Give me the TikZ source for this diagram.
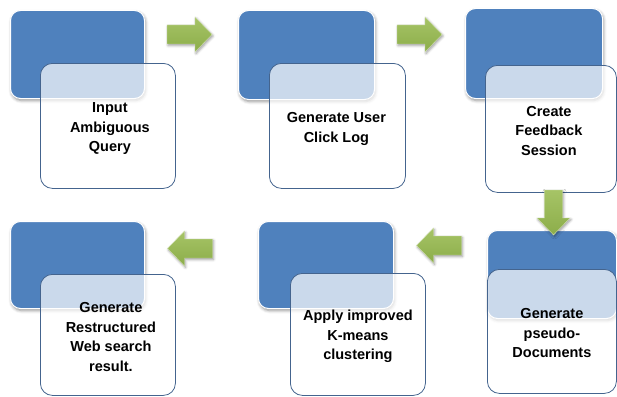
\documentclass[tikz,border=0pt]{standalone}
\usepackage{fontspec}
\setmainfont{Liberation Sans}
\usetikzlibrary{shadows.blur}
\definecolor{stepblue}{HTML}{4F81BD}
\definecolor{edgeblue}{HTML}{44648E}
\definecolor{arrowlight}{HTML}{A6C466}
\definecolor{arrowdark}{HTML}{8CAD4A}
\begin{document}
\begin{tikzpicture}[x=1pt,y=-1pt,
  bluebox/.style={draw=white, line width=1pt, fill=stepblue, rounded corners=10pt,
    anchor=north west, inner sep=0pt,
    blur shadow={shadow xshift=1pt, shadow yshift=-2pt, shadow blur radius=3pt, shadow opacity=45}},
  whitebox/.style={draw=edgeblue, line width=0.8pt, fill=white, fill opacity=0.7,
    rounded corners=12pt, anchor=north west, inner sep=0pt},
  steptext/.style={align=center, inner sep=0pt, font=\bfseries\fontsize{14.5}{19.5}\selectfont},
  greenarrow/.pic={
    \path[blur shadow={shadow xshift=1pt, shadow yshift=-1.5pt, shadow blur radius=2.5pt, shadow opacity=40},
      top color=arrowlight, bottom color=arrowdark, draw=white!50!arrowlight, line width=0.4pt]
      (-22.5,-9.5) -- (5.5,-9.5) -- (5.5,-17.5) -- (22.5,0) -- (5.5,17.5) -- (5.5,9.5) -- (-22.5,9.5) -- cycle;
  }
]
\useasboundingbox (0,0) rectangle (617,396);

% step 1
\node[bluebox, minimum width=134pt, minimum height=88pt] (b1) at (10,10) {};
\node[whitebox, minimum width=135pt, minimum height=125pt] (w1) at (40,63) {};
\node[steptext] (t1) at ([xshift=2pt, yshift=-3pt]w1.center) {Input\\Ambiguous\\Query};
% step 2
\node[bluebox, minimum width=136pt, minimum height=89pt] (b2) at (238,10) {};
\node[whitebox, minimum width=136pt, minimum height=125pt] (w2) at (269,63) {};
\node[steptext] (t2) at ([xshift=-1pt, yshift=-3pt]w2.center) {Generate User\\Click Log};
% step 3
\node[bluebox, minimum width=137pt, minimum height=90pt] (b3) at (465,8) {};
\node[whitebox, minimum width=131pt, minimum height=127pt] (w3) at (485,65) {};
\node[steptext] (t3) at ([xshift=-2pt, yshift=-2pt]w3.center) {Create\\Feedback\\Session};
% step 4 (right bottom)
\node[bluebox, minimum width=129pt, minimum height=88pt] (b6) at (487,230) {};
\node[whitebox, minimum width=129pt, minimum height=124pt] (w6) at (487,269) {};
\node[steptext] (t6) at ([yshift=-2pt]w6.center) {Generate\\pseudo-\\Documents};
% step 5
\node[bluebox, minimum width=135pt, minimum height=87pt] (b5) at (258,221) {};
\node[whitebox, minimum width=135pt, minimum height=122pt] (w5) at (290,273) {};
\node[steptext] (t5) at ([yshift=-2pt]w5.center) {Apply improved\\K-means\\clustering};
% step 6
\node[bluebox, minimum width=134pt, minimum height=87pt] (b4) at (10,221) {};
\node[whitebox, minimum width=135pt, minimum height=121pt] (w4) at (40,274) {};
\node[steptext] (t4) at ([xshift=3pt, yshift=-2pt]w4.center) {Generate\\Restructured\\Web search\\result.};

% arrows
\pic (a1) at (189.5,34.5) {greenarrow};
\pic (a2) at (419.5,34.5) {greenarrow};
\pic[rotate=-90, yscale=0.95] (a3) at (553.5,212.5) {greenarrow};
\pic[rotate=180] (a4) at (439,245.5) {greenarrow};
\pic[rotate=180] (a5) at (190,248.5) {greenarrow};
\end{tikzpicture}
\end{document}
